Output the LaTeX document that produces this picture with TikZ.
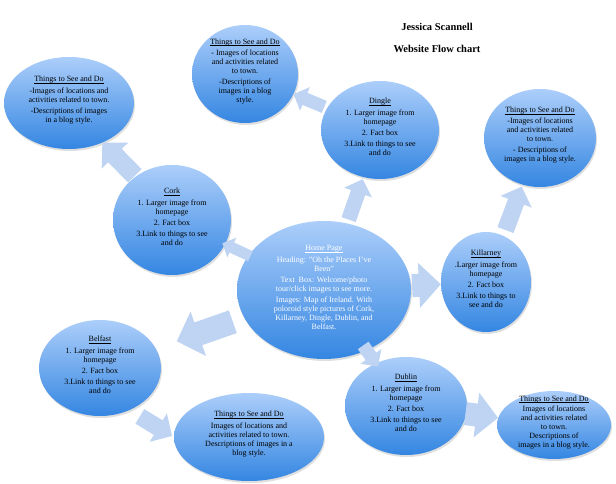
\documentclass[tikz,border=0pt]{standalone}
\usepackage{fontspec}
\setmainfont{Liberation Serif}
\usetikzlibrary{shapes.geometric,arrows.meta,shadows}
\definecolor{toplight}{RGB}{172,206,250}
\definecolor{botdark}{RGB}{52,134,226}
\definecolor{arrblue}{RGB}{190,212,242}
\newcommand\uhead[1]{$\underline{\smash{\mbox{#1}}}$}
\begin{document}
\begin{tikzpicture}[x=1pt,y=-1pt,
      bubble/.style={ellipse,inner sep=0pt,align=center,
                     top color=toplight,bottom color=botdark,
                     drop shadow={opacity=0.25,shadow xshift=1pt,shadow yshift=-2pt},
                     font=\fontsize{8}{9}\selectfont},
      fat/.style={line width=#1,draw=arrblue,
                  -{Triangle[length=0pt 0.95,width=0pt 1.9]}},
      title/.style={font=\fontsize{10.5}{12}\selectfont\bfseries}
    ]
    \useasboundingbox[fill=white] (0,0) rectangle (616,484);
    % Title
    \node[title] (author) at (437,27) {Jessica Scannell};
    \node[title] (subtitle) at (437,49) {Website Flow chart};
    % Home page
    \node[bubble, minimum width=174pt, minimum height=138pt, text=white] (home) at (324,290)
      {\uhead{Home Page}\\[3pt]
       Heading: "Oh the Places I've\\ Been"\\[2pt]
       Text\ \ Box: Welcome/photo\\ tour/click images to see more.\\[2pt]
       Images: Map of Ireland. With\\ poloroid style pictures of Cork,\\
       Killarney, Dingle, Dublin, and\\ Belfast.};
    % Towns
    \node[bubble, minimum width=118pt, minimum height=110pt] (cork) at (172,220)
      {\uhead{Cork}\\[3pt] 1. Larger image from\\ homepage\\[2pt] 2. Fact box\\[2pt]
       3.Link to things to see\\ and do};
    \node[bubble, minimum width=118pt, minimum height=98pt] (dingle) at (380,130)
      {\uhead{Dingle}\\[3pt] 1. Larger image from\\ homepage\\[2pt] 2. Fact box\\[2pt]
       3.Link to things to see\\ and do};
    \node[bubble, minimum width=90pt, minimum height=100pt] (killarney) at (486,282)
      {\uhead{Killarney}\\[3pt] .Larger image from\\ homepage\\[2pt] 2. Fact box\\[2pt]
       3.Link to things to\\ see and do};
    \node[bubble, minimum width=122pt, minimum height=96pt] (belfast) at (100,368)
      {\uhead{Belfast}\\[3pt] 1. Larger image from\\ homepage\\[2pt] 2. Fact box\\[2pt]
       3.Link to things to see\\ and do};
    \node[bubble, minimum width=122pt, minimum height=98pt] (dublin) at (406,406)
      {\uhead{Dublin}\\[3pt] 1. Larger image from\\ homepage\\[2pt] 2. Fact box\\[2pt]
       3.Link to things to see\\ and do};
    % Things to see and do
    \node[bubble, minimum width=130pt, minimum height=92pt] (tcork) at (69,103)
      {\uhead{Things to See and Do}\\[3pt] -Images of locations and\\
       activities related to town.\\[2pt] -Descriptions of images\\ in a blog style.};
    \node[bubble, minimum width=106pt, minimum height=98pt] (tdingle) at (245,74)
      {\uhead{Things to See and Do}\\[2pt] -\ Images of locations\\
       and activities related\\ to town.\\[2pt] -Descriptions of\\ images in a blog\\ style.};
    \node[bubble, minimum width=112pt, minimum height=98pt] (tkillarney) at (540,138)
      {\uhead{Things to See and Do}\\[2pt] -Images of locations\\
       and activities related\\ to town.\\[2pt] - Descriptions of\\ images in a blog style.};
    \node[bubble, minimum width=150pt, minimum height=88pt] (tbelfast) at (249,437)
      {\uhead{Things to See and Do}\\[3pt] Images of locations and\\
       activities related to town.\\ Descriptions of images in a\\ blog style.};
    \node[bubble, minimum width=114pt, minimum height=68pt] (tdublin) at (554,425)
      {\uhead{Things to See and Do}\\[1pt] Images of locations\\
       and activities related\\ to town.\\ Descriptions of\\ images in a blog style.};
    % Arrows
    \draw[fat=19pt, shorten <=1pt] (cork.130) -- (tcork.-50);
    \draw[fat=11pt, shorten <=-2pt, shorten >=-3pt] (home) -- (cork);
    \draw[fat=15pt, shorten <=4pt, shorten >=2pt] (home) -- (dingle);
    \draw[fat=13pt, shorten <=3pt] (dingle) -- (tdingle);
    \draw[fat=17pt, shorten <=6pt, shorten >=2pt] (killarney) -- (tkillarney);
    \draw[fat=23pt, shorten <=1pt] (home) -- (killarney);
    \draw[fat=24pt, shorten <=12pt, shorten >=22pt] (home) -- (belfast);
    \draw[fat=17pt, shorten <=12pt, shorten >=2pt] (belfast.-55) -- (tbelfast.west);
    \draw[fat=13pt, shorten <=-6pt, shorten >=-4pt] (home) -- (dublin);
    \draw[fat=23pt, shorten <=-1pt] (dublin) -- (tdublin);
\end{tikzpicture}
\end{document}
